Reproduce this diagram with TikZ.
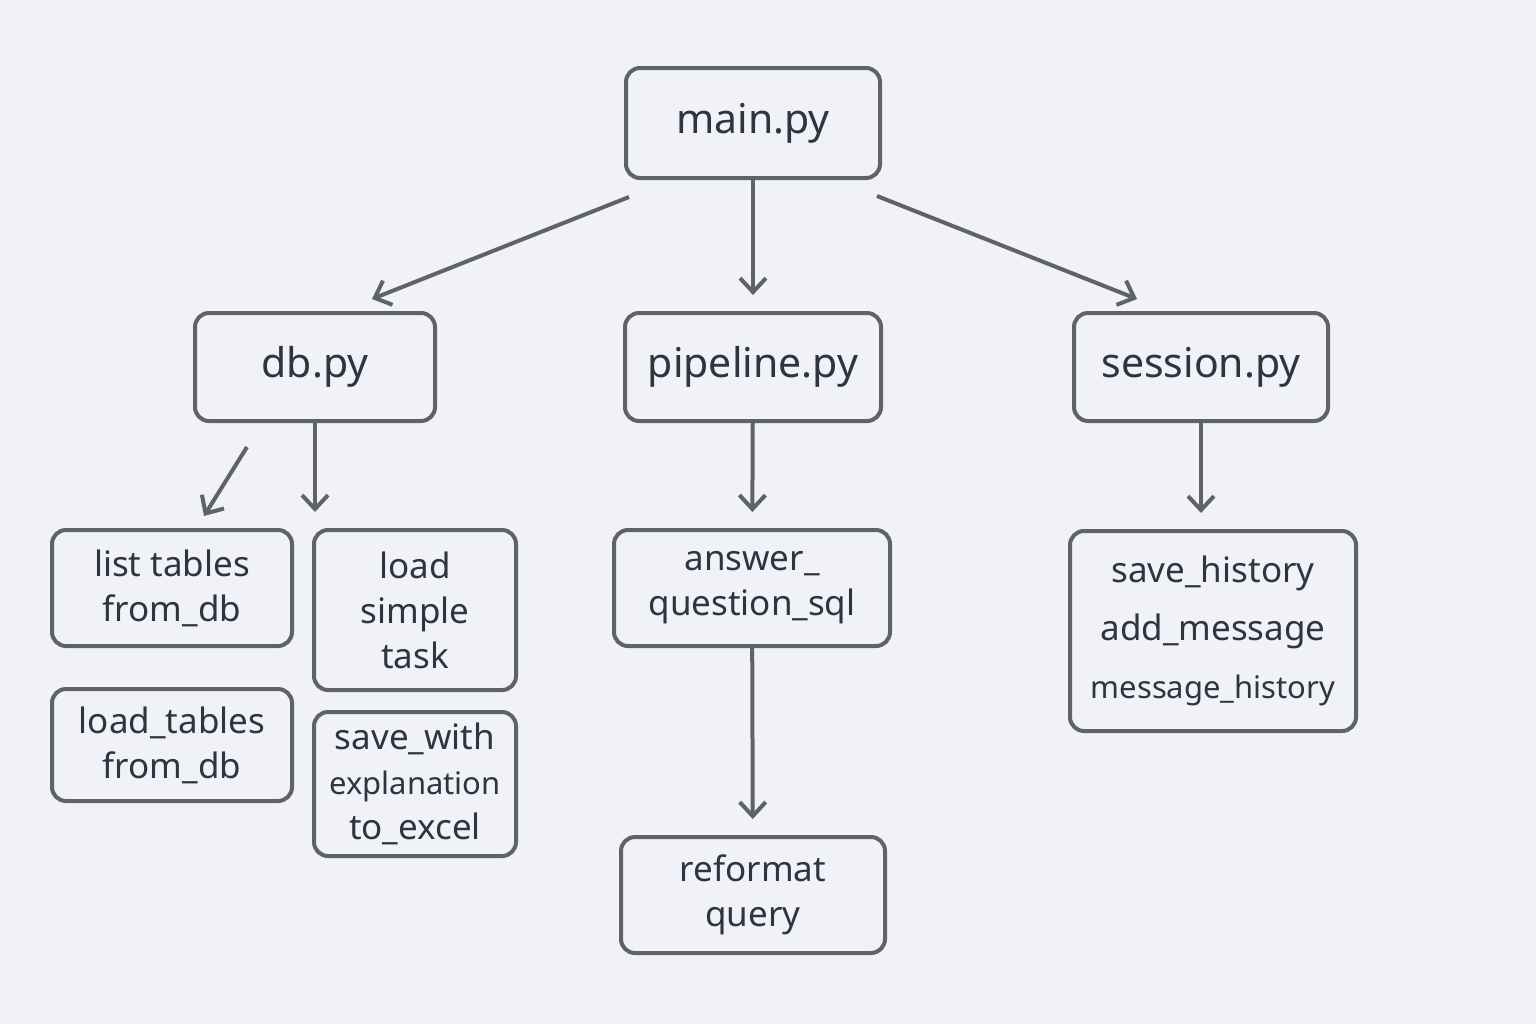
\documentclass[tikz,border=0pt]{standalone}
\usepackage{fontspec}
\setmainfont{Noto Sans}
\usepackage{tikz}
\usetikzlibrary{arrows.meta}
\definecolor{bgcol}{HTML}{F0F2F7}
\definecolor{linecol}{HTML}{5F6369}
\definecolor{txtcol}{HTML}{2E3540}

\begin{document}
\begin{tikzpicture}[x=0.5pt, y=-0.5pt,
                    every node/.style={draw=linecol, line width=2pt, rectangle, rounded corners=7pt, align=center, text=txtcol, inner sep=0pt},
                    file/.style={font=\fontsize{20.5}{24}\selectfont},
                    func/.style={font=\fontsize{17.5}{22.5}\selectfont},
                    link/.style={draw=linecol, line width=2pt, -{Straight Barb[length=7pt, width=13pt]}}]
    % Background
    \fill[bgcol] (0,0) rectangle (1536,1024);
    \useasboundingbox (0,0) rectangle (1536,1024);
    % Root node
    \node[file, minimum width=127pt, minimum height=55pt] (main) at (753,123) {main.py};
    % Modules
    \node[file, minimum width=120pt, minimum height=54pt] (db) at (315,367) {db.py};
    \node[file, minimum width=128pt, minimum height=54pt] (pipeline) at (753,367) {pipeline.py};
    \node[file, minimum width=127pt, minimum height=54pt] (session) at (1201,367) {session.py};
    % Functions of db.py
    \node[func, minimum width=120pt, minimum height=58pt] (listtables) at (172,588) {list tables\\from\_db};
    \node[func, minimum width=101pt, minimum height=80pt] (loadsimple) at (415,610) {load\\simple\\task};
    \node[func, minimum width=120pt, minimum height=56pt] (loadtables) at (172,745) {load\_tables\\from\_db};
    \node[func, minimum width=101pt, minimum height=72pt] (savewith) at (415,784) {save\_with\\{\fontsize{15.5}{22.5}\selectfont explanation}\\to\_excel};
    % Functions of pipeline.py
    \node[func, minimum width=138pt, minimum height=58pt] (answer) at (752,588) {answer\_\\question\_sql};
    \node[func, minimum width=132pt, minimum height=58pt] (reformat) at (753,895) {reformat\\query};
    % Functions of session.py
    \node[func, font=\fontsize{17.5}{29}\selectfont, minimum width=143pt, minimum height=100pt] (history) at (1213,631) {save\_history\\add\_message\\{\fontsize{15.5}{29}\selectfont message\_history}};
    % Free arrow ends
    \coordinate (mainL) at (629,197);
    \coordinate (mainR) at (877,196);
    \coordinate (dbL) at (247,447);
    \coordinate (dbin) at (372,299);
    \coordinate (sessionin) at (1137,299);
    \coordinate (listin) at (204,516);
    % Connectors
    \draw[link] (mainL) -- (dbin);
    \draw[link, shorten >=8pt] (main) -- (pipeline);
    \draw[link] (mainR) -- (sessionin);
    \draw[link] (dbL) -- (listin);
    \draw[link, shorten >=8pt] (db) -- (db |- loadsimple.north);
    \draw[link, shorten >=8pt] (pipeline) -- (answer);
    \draw[link, shorten >=8pt] (answer) -- (reformat);
    \draw[link, shorten >=8pt] (session) -- (session |- history.north);
\end{tikzpicture}
\end{document}
